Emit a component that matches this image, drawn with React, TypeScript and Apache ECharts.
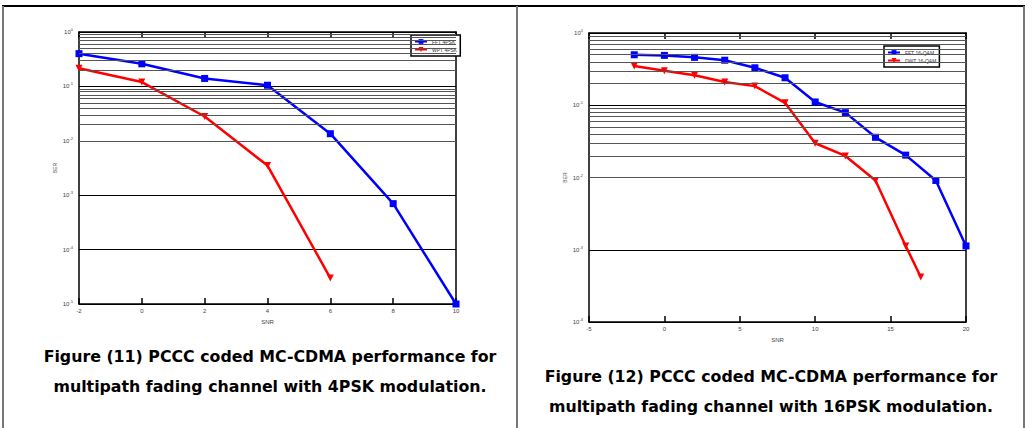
import React, { useEffect, useRef } from "react";
import * as echarts from "echarts";

// Figure 11: 4PSK
const snr4 = [-2, 0, 2, 4, 6, 8, 10];
const fft4psk = [0.4, 0.26, 0.14, 0.105, 0.0135, 0.0007, 0.00001];
const snr4w = [-2, 0, 2, 4, 6];
const wpt4psk = [0.215, 0.12, 0.028, 0.0035, 0.00003];

// Figure 12: 16-QAM
const snr16 = [-2, 0, 2, 4, 6, 8, 10, 12, 14, 16, 18, 20];
const fft16qam = [0.5, 0.49, 0.46, 0.42, 0.33, 0.24, 0.111, 0.079, 0.036, 0.0204, 0.0091, 0.00113];
const snr16d = [-2, 0, 2, 4, 6, 8, 10, 12, 14, 16, 17];
const dwt16qam = [0.35, 0.3, 0.26, 0.21, 0.184, 0.108, 0.0298, 0.0199, 0.0091, 0.00113, 0.00042];

const captionLeft = [
  "Figure (11) PCCC coded MC-CDMA performance for",
  "multipath fading channel with 4PSK modulation.",
];
const captionRight = [
  "Figure (12) PCCC coded MC-CDMA performance for",
  "multipath fading channel with 16PSK modulation.",
];

const minorValues = (lo: number, hi: number) => {
  const out: number[] = [];
  for (let e = lo; e < hi; e++) {
    for (let k = 2; k <= 9; k++) out.push(k * Math.pow(10, e));
  }
  return out;
};

export default function App() {
  const ref = useRef<HTMLDivElement>(null);
  useEffect(() => {
    document.body.style.margin = "0";
    const chart = echarts.init(ref.current!, null, { renderer: "svg" });
    const grids = [
      { left: 79, top: 32, width: 377, height: 272 },
      { left: 589, top: 33, width: 377, height: 289 },
    ];
    const tickFont = { fontSize: 6, color: "#444", fontFamily: "Liberation Sans" };
    const yLabel = {
      ...tickFont,
      margin: 6,
      formatter: (v: number) => "10{s|" + Math.round(Math.log10(v)) + "}",
      rich: { s: { fontSize: 4, verticalAlign: "top", padding: [0, 0, 5, 0], color: "#444" } },
    };
    const mkX = (gi: number, min: number, max: number, interval: number) => [
      {
        type: "value", gridIndex: gi, min, max, interval,
        name: "SNR", nameLocation: "middle", nameGap: 14,
        nameTextStyle: { fontSize: 6, color: "#444" },
        axisLine: { onZero: false, lineStyle: { color: "#000", width: 1.5 } },
        axisTick: { inside: true, length: 6, lineStyle: { color: "#000", width: 1.5 } },
        axisLabel: { ...tickFont, margin: 4 },
        splitLine: { show: false },
      },
      {
        type: "value", gridIndex: gi, min, max, interval, position: "top",
        axisLine: { onZero: false, lineStyle: { color: "#000", width: 1.5 } },
        axisTick: { inside: true, length: 6, lineStyle: { color: "#000", width: 1.5 } },
        axisLabel: { show: false },
        splitLine: { show: false },
      },
    ];
    const mkY = (gi: number, min: number) => [
      {
        type: "log", logBase: 10, gridIndex: gi, min, max: 1, position: "left",
        name: "BER", nameLocation: "middle", nameGap: 22, nameRotate: 90,
        nameTextStyle: { fontSize: 5, color: "#444" },
        axisLine: { onZero: false, lineStyle: { color: "#000", width: 1.5 } },
        axisTick: { show: false },
        axisLabel: yLabel,
        splitLine: { show: true, lineStyle: { color: "#000", width: 1.2 } },
      },
      {
        type: "log", logBase: 10, gridIndex: gi, min, max: 1, position: "right",
        axisLine: { onZero: false, lineStyle: { color: "#000", width: 1.5 } },
        axisTick: { show: false },
        axisLabel: { show: false },
        splitLine: { show: false },
      },
    ];
    const minorSeries = (gi: number, lo: number) => ({
      type: "line", xAxisIndex: gi * 2, yAxisIndex: gi * 2, data: [], silent: true,
      markLine: {
        silent: true, symbol: "none", label: { show: false }, animation: false,
        lineStyle: { color: "#555", width: 1, type: "solid" },
        data: minorValues(lo, 0).map((v) => ({ yAxis: v })),
      },
    });
    const line = (name: string, gi: number, xs: number[], ys: number[], color: string, symbol: string, rotate = 0) => ({
      name, type: "line", xAxisIndex: gi * 2, yAxisIndex: gi * 2,
      data: xs.map((x, i) => [x, ys[i]]),
      lineStyle: { color, width: 2.5 }, itemStyle: { color },
      symbol, symbolSize: 7, symbolRotate: rotate, showSymbol: true,
    });
    const legend = (left: number, top: number, names: string[]) => ({
      data: names, left, top, orient: "vertical", itemWidth: 12, itemHeight: 6, itemGap: 3,
      padding: [4, 3, 4, 3], backgroundColor: "#fff", borderColor: "#000", borderWidth: 1.5,
      textStyle: { fontSize: 5, color: "#333" },
    });
    const cap = (x: number, y: number, t: string) => ({
      type: "text", x, y,
      style: { text: t, fill: "#000", font: "bold 15.8px 'DejaVu Sans'", textAlign: "center", textVerticalAlign: "middle" },
    });
    chart.setOption({
      animation: false,
      backgroundColor: "#fff",
      grid: grids.map((g) => ({ ...g, show: false })),
      xAxis: [...mkX(0, -2, 10, 2), ...mkX(1, -5, 20, 5)],
      yAxis: [...mkY(0, 1e-5), ...mkY(1, 1e-4)],
      legend: [
        legend(411, 35, ["FFT 4PSK", "WPT 4PSK"]),
        legend(884, 46, ["FFT 16-QAM", "DWT 16-QAM"]),
      ],
      series: [
        minorSeries(0, -5),
        minorSeries(1, -4),
        line("FFT 4PSK", 0, snr4, fft4psk, "#0000ff", "rect"),
        line("WPT 4PSK", 0, snr4w, wpt4psk, "#ff0000", "triangle", 180),
        line("FFT 16-QAM", 1, snr16, fft16qam, "#0000ff", "rect"),
        line("DWT 16-QAM", 1, snr16d, dwt16qam, "#ff0000", "triangle", 180),
      ],
      graphic: [
        { type: "line", shape: { x1: 2, y1: 6, x2: 1025, y2: 6 }, style: { stroke: "#000", lineWidth: 2 } },
        { type: "line", shape: { x1: 3, y1: 6, x2: 3, y2: 428 }, style: { stroke: "#777", lineWidth: 2 } },
        { type: "line", shape: { x1: 517, y1: 6, x2: 517, y2: 428 }, style: { stroke: "#777", lineWidth: 2 } },
        { type: "line", shape: { x1: 1024, y1: 6, x2: 1024, y2: 428 }, style: { stroke: "#777", lineWidth: 2 } },
        cap(270, 356, captionLeft[0]),
        cap(270, 386, captionLeft[1]),
        cap(771, 376, captionRight[0]),
        cap(771, 406, captionRight[1]),
      ],
    });
    return () => chart.dispose();
  }, []);
  return <div ref={ref} style={{ width: 1035, height: 428 }} />;
}
